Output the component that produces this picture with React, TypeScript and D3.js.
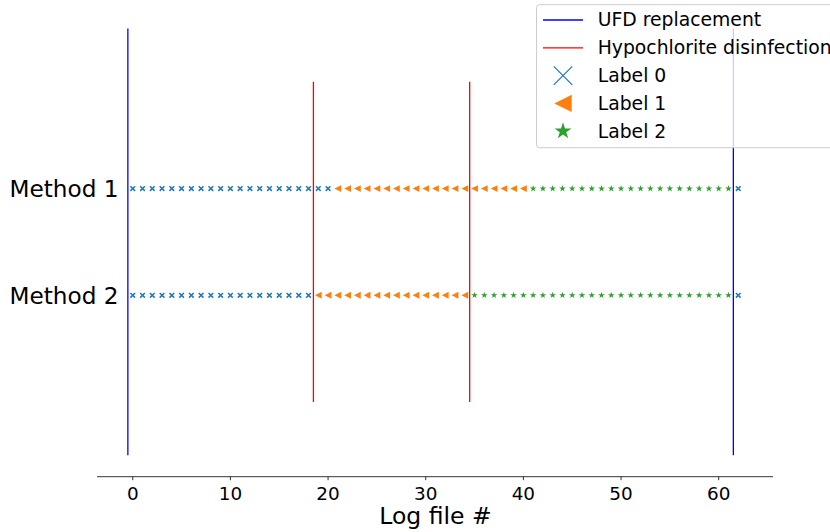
import React from "react";
import * as d3 from "d3";

// ---- data ----
const xTicks = [0, 10, 20, 30, 40, 50, 60];
const methods = ["Method 1", "Method 2"];
const methodY = [1, 2];
const logFiles = [
  0, 1, 2, 3, 4, 5, 6, 7, 8, 9, 10, 11, 12, 13, 14, 15, 16, 17, 18, 19, 20,
  21, 22, 23, 24, 25, 26, 27, 28, 29, 30, 31, 32, 33, 34, 35, 36, 37, 38, 39, 40,
  41, 42, 43, 44, 45, 46, 47, 48, 49, 50, 51, 52, 53, 54, 55, 56, 57, 58, 59, 60,
  61, 62,
];
const labelsMethod1 = [
  0, 0, 0, 0, 0, 0, 0, 0, 0, 0, 0, 0, 0, 0, 0, 0, 0, 0, 0, 0, 0,
  1, 1, 1, 1, 1, 1, 1, 1, 1, 1, 1, 1, 1, 1, 1, 1, 1, 1, 1, 1,
  2, 2, 2, 2, 2, 2, 2, 2, 2, 2, 2, 2, 2, 2, 2, 2, 2, 2, 2, 2, 2,
  0,
];
const labelsMethod2 = [
  0, 0, 0, 0, 0, 0, 0, 0, 0, 0, 0, 0, 0, 0, 0, 0, 0, 0, 0,
  1, 1, 1, 1, 1, 1, 1, 1, 1, 1, 1, 1, 1, 1, 1, 1,
  2, 2, 2, 2, 2, 2, 2, 2, 2, 2, 2, 2, 2, 2, 2, 2, 2, 2, 2, 2, 2, 2, 2, 2, 2, 2, 2,
  0,
];
const ufdReplacement = [-0.5, 61.5];
const hypochlorite = [18.5, 34.5];
const labelNames = ["Label 0", "Label 1", "Label 2"];
const labelColors = ["#1f77b4", "#ff7f0e", "#2ca02c"];

const W = 830;
const H = 532;
const FONT = "DejaVu Sans, sans-serif";

function markerPath(label: number, big: boolean): string {
  if (label === 0) {
    return d3.symbol(d3.symbolX, big ? 225 : 16)() as string;
  }
  if (label === 1) {
    const h = big ? 8.7 : 3.4;
    const p = d3.path();
    p.moveTo(-h, 0);
    p.lineTo(h, h);
    p.lineTo(h, -h);
    p.closePath();
    return p.toString();
  }
  return d3.symbol(d3.symbolStar, big ? 88 : 14)() as string;
}

function Marker({ label, cx, cy, big }: { label: number; cx: number; cy: number; big: boolean }) {
  const d = markerPath(label, big);
  const c = labelColors[label];
  if (label === 0) {
    return (
      <path d={d} transform={`translate(${cx},${cy})`} fill="none" stroke={c} strokeWidth={big ? 1.2 : 1.5} />
    );
  }
  return <path d={d} transform={`translate(${cx},${cy})`} fill={c} stroke="none" />;
}

export default function App() {
  const x = d3.scaleLinear().domain([-3.66, 65.56]).range([97, 773]);
  const y = d3.scaleLinear().domain([-0.7, 3.7]).range([7.1, 476.7]);
  const axisY = y(3.7);
  const series = [labelsMethod1, labelsMethod2];

  const legendX = 536.5;
  const legendRows = [20, 47.8, 75.6, 103.4, 131.2];

  return (
    <div style={{ position: "fixed", left: 0, top: 0 }}>
      <svg width={W} height={H} style={{ display: "block", background: "#fff" }}>
        <rect x={0} y={0} width={W} height={H} fill="#fff" />
        {/* vertical event lines */}
        {ufdReplacement.map((v, i) => (
          <line key={"u" + i} x1={x(v)} x2={x(v)} y1={y(-0.5)} y2={y(3.5)} stroke="#0000ff" strokeWidth={1.3} />
        ))}
        {hypochlorite.map((v, i) => (
          <line key={"h" + i} x1={x(v)} x2={x(v)} y1={y(0)} y2={y(3)} stroke="#ff0000" strokeWidth={1.3} />
        ))}
        {/* markers */}
        {series.map((labels, si) =>
          labels.map((lab, i) => (
            <Marker key={si + "-" + i} label={lab} cx={x(logFiles[i])} cy={y(methodY[si])} big={false} />
          ))
        )}
        {/* y tick labels */}
        {methods.map((m, i) => (
          <text
            key={m}
            x={118.5}
            y={y(methodY[i]) + 8.3}
            textAnchor="end"
            fontFamily={FONT}
            fontSize={23.2}
            fill="#000"
          >
            {m}
          </text>
        ))}
        {/* x axis */}
        <line x1={97} x2={773} y1={axisY} y2={axisY} stroke="#000" strokeWidth={0.8} />
        {xTicks.map((t) => (
          <g key={t}>
            <line x1={x(t)} x2={x(t)} y1={axisY} y2={axisY + 3.5} stroke="#000" strokeWidth={0.8} />
            <text x={x(t)} y={500.3} textAnchor="middle" fontFamily={FONT} fontSize={18.4} fill="#000">
              {t}
            </text>
          </g>
        ))}
        <text x={x(31)} y={524.3} textAnchor="middle" fontFamily={FONT} fontSize={23.5} fill="#000">
          Log file #
        </text>
        {/* legend */}
        <rect
          x={legendX}
          y={4.7}
          width={320}
          height={143}
          rx={3}
          fill="#fff"
          fillOpacity={0.8}
          stroke="#cccccc"
          strokeWidth={1}
        />
        <line x1={543} x2={583} y1={legendRows[0]} y2={legendRows[0]} stroke="#0000ff" strokeWidth={1.3} />
        <line x1={543} x2={583} y1={legendRows[1]} y2={legendRows[1]} stroke="#ff0000" strokeWidth={1.3} />
        {labelNames.map((n, i) => (
          <Marker key={n} label={i} cx={563} cy={legendRows[i + 2]} big={true} />
        ))}
        {["UFD replacement", "Hypochlorite disinfection", ...labelNames].map((t, i) => (
          <text key={t} x={597.7} y={legendRows[i] + 6.4} fontFamily={FONT} fontSize={18.8} fill="#000">
            {t}
          </text>
        ))}
      </svg>
    </div>
  );
}
